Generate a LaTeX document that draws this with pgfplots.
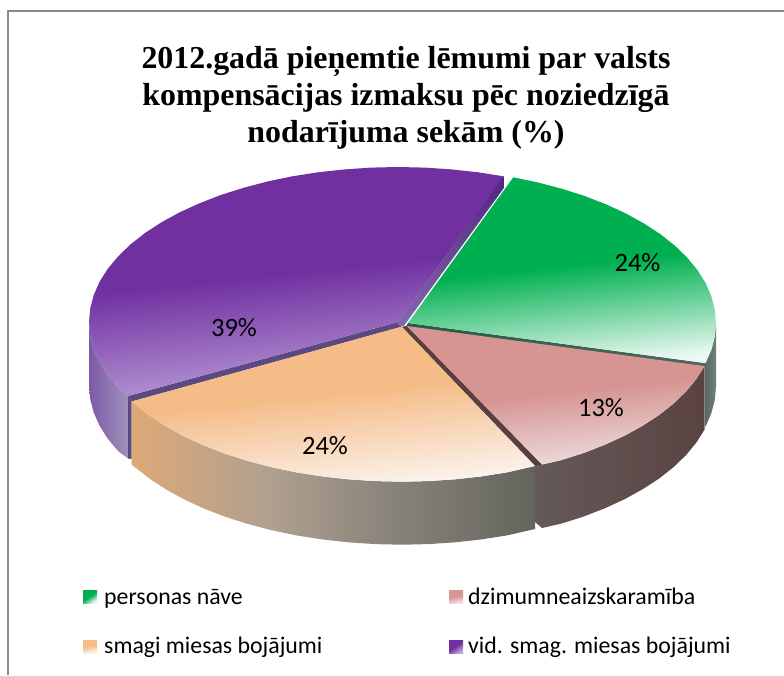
\documentclass[border=0pt]{standalone}
\usepackage{fontspec}
\setmainfont{Carlito}
\newfontfamily\titlefont{Liberation Serif}
\usepackage{pgfplots}
\pgfplotsset{compat=1.18}

\definecolor{purpD}{HTML}{7030A0}
\definecolor{purpL}{HTML}{BFA5DC}
\definecolor{greenD}{HTML}{00B050}
\definecolor{greenL}{HTML}{ECF9F3}
\definecolor{pinkD}{HTML}{D69492}
\definecolor{pinkL}{HTML}{EFE0E2}
\definecolor{orD}{HTML}{F5BC88}
\definecolor{orL}{HTML}{FBF4EE}
\definecolor{orWa}{HTML}{DDA976}
\definecolor{orWb}{HTML}{B0A08F}
\definecolor{orWc}{HTML}{86827A}
\definecolor{orWd}{HTML}{64645C}
\definecolor{purpWallL}{HTML}{7C5AA6}
\definecolor{purpWallR}{HTML}{A090BA}
\definecolor{purpEdge}{HTML}{5A4A80}
\definecolor{purpSideT}{HTML}{4F2580}
\definecolor{purpSideB}{HTML}{8468AD}
\definecolor{greenWallL}{HTML}{5C6A64}
\definecolor{greenWallR}{HTML}{70807C}
\definecolor{greenEdgeL}{HTML}{1F5E45}
\definecolor{greenEdgeR}{HTML}{55655F}
\definecolor{pinkWallL}{HTML}{645A58}
\definecolor{pinkWallR}{HTML}{5A4242}
\definecolor{pinkEdge}{HTML}{5A3F3F}
\pgfdeclareverticalshading{purpTop}{100bp}{color(0bp)=(purpL); color(25bp)=(purpL); color(52bp)=(purpD); color(100bp)=(purpD)}
\pgfdeclareverticalshading{greenTop}{100bp}{color(0bp)=(greenL); color(25bp)=(greenL); color(51bp)=(greenD); color(100bp)=(greenD)}
\pgfdeclareverticalshading{pinkTop}{100bp}{color(0bp)=(pinkL); color(25bp)=(pinkL); color(51bp)=(pinkD); color(100bp)=(pinkD)}
\pgfdeclareverticalshading{orTop}{100bp}{color(0bp)=(orL); color(25bp)=(orL); color(53bp)=(orD); color(100bp)=(orD)}
\pgfdeclarehorizontalshading{orWall}{100bp}{color(0bp)=(orWa); color(25bp)=(orWa); color(42bp)=(orWb); color(58bp)=(orWc); color(75bp)=(orWd); color(100bp)=(orWd)}

\tikzset{
  sliceTop/.style={draw=none, shade, shading=#1, shading angle=6},
  lbl/.style={font=\fontsize{26.5}{30}\selectfont, inner sep=0pt},
  leg/.style={font=\fontsize{23.8}{26}\selectfont, inner sep=0pt, anchor=base west},
  ttl/.style={font=\titlefont\bfseries\fontsize{31.9}{38}\selectfont, inner sep=0pt, anchor=base},
}

\begin{document}
\begin{tikzpicture}
\useasboundingbox (0,0) rectangle (784pt,675pt);
\begin{axis}[
    at={(0,0)}, anchor=south west,
    scale only axis, width=784pt, height=675pt,
    xmin=0, xmax=784, ymin=0, ymax=675,
    y dir=reverse,
    hide axis,
    no markers,
]
% frame
\addplot[color=black!45, line width=1.6pt] coordinates {(8,675) (8,11) (784,11)};

% purple slice
\addplot[draw=none, left color=purpWallL, right color=purpWallR] coordinates {
  (128,396) (118,387.5) (107.6,375) (99.5,362.1) (93.7,348.9) (90.2,335.5) (89,322)
  (89,385.5) (90.2,399) (93.7,412.4) (99.5,425.6) (107.6,438.5) (118,451) (128,458.5)};
\addplot[draw=none, fill=purpEdge] coordinates {(128,396) (131.7,401.5) (131.7,459) (128,458.5)};
\addplot[draw=none, fill=purpEdge] coordinates {(128,396) (398,322) (401.7,326.7) (131.7,401.5)};
\addplot[sliceTop=purpTop] coordinates {
  (128,396) (118,387.5) (107.6,375) (99.5,362.1) (93.7,348.9) (90.2,335.5) (89,322)
  (90.2,308.5) (93.7,295.1) (99.5,281.9) (107.6,269) (118,256.5) (130.4,244.5) (144.9,233.1)
  (161.3,222.4) (179.5,212.4) (199.4,203.3) (220.8,195) (243.5,187.8) (267.4,181.5)
  (292.3,176.3) (318,172.3) (344.4,169.4) (371.1,167.6) (398,167) (424.9,167.6)
  (451.6,169.4) (478,172.3) (503.5,176.3) (398,322)};
\addplot[draw=none, top color=purpSideT, bottom color=purpSideB] coordinates {
  (503.5,176) (503.5,188.5) (406.7,322) (404,326) (398,325) (398,322)};

% green slice
\addplot[draw=none, left color=greenWallL, right color=greenWallR] coordinates {
  (716,323) (714.8,336.5) (711.3,349.9) (705.5,363.1)
  (705.5,426.6) (711.3,413.4) (714.8,400) (716,386.5)};
\addplot[draw=none, left color=greenEdgeL, right color=greenEdgeR] coordinates {
  (408,323) (705.5,363.1) (704.5,367) (406,326.5)};
\addplot[sliceTop=greenTop] coordinates {
  (408,323) (513.3,177.3) (538.2,182.5) (562,188.8) (584.7,196) (606,204.3) (625.8,213.4)
  (643.9,223.4) (660.3,234.1) (674.7,245.5) (687.1,257.5) (697.4,270) (705.5,282.9)
  (711.3,296.1) (714.8,309.5) (716,323) (714.8,336.5) (711.3,349.9) (705.5,363.1)};

% pink slice
\addplot[draw=none, left color=pinkWallL, right color=pinkWallR] coordinates {
  (535,465) (542,464.5) (561,460.2) (583.7,453) (605,444.7) (624.8,435.6) (642.9,425.6)
  (659.3,414.9) (673.7,403.5) (686.1,391.5) (696.4,379) (704.5,366.1)
  (704.5,429.6) (696.4,442.5) (686.1,455) (673.7,467) (659.3,478.4) (642.9,489.1)
  (624.8,499.1) (605,508.2) (583.7,516.5) (561,523.7) (542,528) (535,522)};
\addplot[draw=none, fill=pinkEdge] coordinates {(401.7,326.7) (407,326) (542,464.5) (535,466)};
\addplot[sliceTop=pinkTop] coordinates {
  (407,326) (704.5,366.1) (696.4,379) (686.1,391.5) (673.7,403.5) (659.3,414.9) (642.9,425.6)
  (624.8,435.6) (605,444.7) (583.7,453) (561,460.2) (542,464.5)};

% orange slice
\addplot[draw=none, shade, shading=orWall] coordinates {
  (535,466) (507,472.4) (481.4,476.4) (455.2,479.3) (428.5,481.1) (401.7,481.7) (374.9,481.1)
  (348.2,479.3) (322,476.4) (296.4,472.4) (271.5,467.2) (247.7,460.9) (225,453.7) (203.7,445.4)
  (183.9,436.3) (165.8,426.3) (149.4,415.6) (135,404.2) (131.7,401.5)
  (131.7,464.5) (135,467.2) (149.4,478.6) (165.8,489.3) (183.9,499.3) (203.7,508.4) (225,516.7)
  (247.7,523.9) (271.5,530.2) (296.4,535.4) (322,539.4) (348.2,542.3) (374.9,544.1) (401.7,544.7)
  (428.5,544.1) (455.2,542.3) (481.4,539.4) (507,535.4) (535,529)};
\addplot[sliceTop=orTop] coordinates {
  (401.7,326.7) (535,466) (507,472.4) (481.4,476.4) (455.2,479.3) (428.5,481.1) (401.7,481.7)
  (374.9,481.1) (348.2,479.3) (322,476.4) (296.4,472.4) (271.5,467.2) (247.7,460.9) (225,453.7)
  (203.7,445.4) (183.9,436.3) (165.8,426.3) (149.4,415.6) (135,404.2) (131.7,401.5)};

% legend swatches
\addplot[draw=none, shade, shading=greenTop, shading angle=35] coordinates {(83,590) (97,590) (97,603) (83,603)};
\addplot[draw=none, shade, shading=pinkTop, shading angle=10] coordinates {(449,590) (463,590) (463,603) (449,603)};
\addplot[draw=none, shade, shading=orTop, shading angle=10] coordinates {(83,640) (97,640) (97,653) (83,653)};
\addplot[draw=none, shade, shading=purpTop, shading angle=35] coordinates {(449,640) (463,640) (463,653) (449,653)};

% data labels
\node[lbl] at (axis cs:234,327.5) {39\%};
\node[lbl] at (axis cs:637.5,262.5) {24\%};
\node[lbl] at (axis cs:601,408) {13\%};
\node[lbl] at (axis cs:325,446) {24\%};

% title
\node[ttl] at (axis cs:406,68.5) {2012.gadā pieņemtie lēmumi par valsts};
\node[ttl] at (axis cs:406,105) {kompensācijas izmaksu pēc noziedzīgā};
\node[ttl] at (axis cs:406,142) {nodarījuma sekām (\%)};

% legend text
\node[leg] at (axis cs:104,604) {personas nāve};
\node[leg] at (axis cs:468,604) {dzimumneaizskaramība};
\node[leg] at (axis cs:104,653) {smagi miesas bojājumi};
\node[leg] at (axis cs:468,653) {vid. smag. miesas bojājumi};
\end{axis}
\end{tikzpicture}
\end{document}
